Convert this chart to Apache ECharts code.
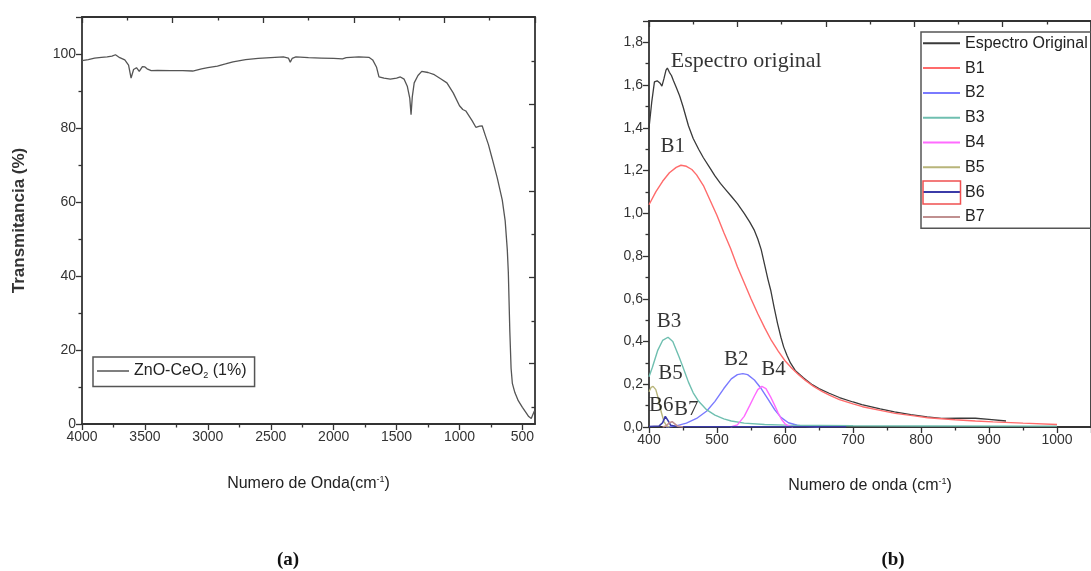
<!DOCTYPE html>
<html>
<head>
<meta charset="utf-8">
<script src="https://cdn.jsdelivr.net/npm/echarts@6/dist/echarts.min.js"></script>
<style>
html,body{margin:0;padding:0;background:#fff;}
#c{width:1091px;height:571px;}
</style>
</head>
<body>
<div id="c"></div>
<script>
// ---------- (a) FTIR spectrum ----------
const ftirWave = [4000,3950,3900,3846,3800,3762,3734,3700,3660,3630,3610,3590,3567,3545,3520,3500,3483,3450,3400,3300,3200,3120,3050,3000,2924,2860,2800,2700,2600,2500,2400,2360,2345,2330,2300,2200,2100,2000,1930,1915,1900,1800,1720,1690,1660,1640,1600,1550,1500,1470,1440,1415,1395,1385,1375,1360,1330,1300,1250,1200,1150,1100,1050,1000,974,950,900,870,840,820,795,770,740,700,660,637,620,612,600,590,580,560,533,500,470,450,430,415,405];
const ftirTrans = [98.2,98.5,98.9,99.1,99.2,99.4,99.8,99.0,98.4,97.0,93.5,95.8,96.3,95.3,96.6,96.5,96.0,95.5,95.6,95.5,95.5,95.4,96.0,96.3,96.7,97.3,97.9,98.5,98.8,99.0,99.2,98.9,97.8,98.8,99.2,99.0,98.9,98.8,98.7,98.3,99.0,99.2,99.1,98.4,96.5,93.8,93.5,93.2,93.5,93.8,93.2,91.3,88.0,83.6,88.5,92.2,94.2,95.3,95.0,94.4,93.3,92.2,89.5,86.0,85.0,84.6,82.0,80.2,80.5,80.6,78.0,75.5,71.7,66.5,60.5,54.9,47.0,41.0,25.0,15.0,11.0,8.5,6.3,4.5,3.0,2.0,1.5,2.0,3.5];
const ftirXTicks = [500,1000,1500,2000,2500,3000,3500,4000];
const ftirXMinorTicks = [750,1250,1750,2250,2750,3250,3750];
const ftirRightMajor = [16.3,39.6,62.9,86.3];
const ftirRightMinor = [4.6,27.8,51.2,74.9,98.0];

// ---------- (b) deconvolution ----------
const espWave = [400,404,408,412,416,419,422,425,427,430,433,436,440,445,450,458,465,473,480,490,497,505,513,521,530,540,548,555,560,565,570,575,579,584,589,594,598,603,608,615,627,640,650,665,680,700,713,740,761,785,809,830,857,880,900,925];
const espVal  = [1.40,1.52,1.615,1.62,1.61,1.595,1.63,1.67,1.68,1.66,1.645,1.62,1.59,1.55,1.50,1.41,1.35,1.30,1.26,1.21,1.175,1.14,1.11,1.08,1.045,1.00,0.96,0.92,0.88,0.83,0.76,0.69,0.64,0.56,0.485,0.42,0.375,0.335,0.30,0.265,0.23,0.198,0.18,0.158,0.138,0.117,0.105,0.085,0.071,0.058,0.047,0.04,0.042,0.041,0.036,0.028];
const b1Wave = [400,410,420,430,440,447,455,463,470,480,490,500,510,520,530,540,550,560,570,580,590,600,610,620,630,642,655,666,680,700,714,740,762,790,810,850,880,906,950,1000];
const b1Val  = [1.04,1.10,1.15,1.19,1.215,1.225,1.22,1.205,1.18,1.13,1.06,0.99,0.91,0.835,0.75,0.675,0.60,0.53,0.465,0.405,0.355,0.31,0.275,0.245,0.218,0.19,0.166,0.148,0.128,0.108,0.095,0.078,0.064,0.052,0.043,0.034,0.028,0.024,0.018,0.012];
const b2Wave = [425,440,455,470,485,497,510,521,530,538,545,555,565,575,585,594,605,618,630,650];
const b2Val  = [0.0,0.005,0.018,0.04,0.075,0.12,0.18,0.225,0.245,0.25,0.245,0.22,0.18,0.13,0.08,0.045,0.02,0.008,0.003,0.0];
const b3Wave = [400,405,413,420,428,435,444,450,458,465,473,485,497,510,521,540,570,600,700,800,1000];
const b3Val  = [0.235,0.28,0.36,0.405,0.42,0.40,0.33,0.28,0.21,0.16,0.12,0.08,0.056,0.038,0.028,0.018,0.012,0.009,0.006,0.005,0.004];
const b4Wave = [520,530,540,548,555,560,566,572,579,585,590,595,600,605,612];
const b4Val  = [0.0,0.01,0.05,0.10,0.145,0.175,0.19,0.18,0.14,0.10,0.065,0.035,0.015,0.005,0.0];
const b5Wave = [400,403,406,410,414,418,422,426,430];
const b5Val  = [0.165,0.185,0.19,0.175,0.13,0.07,0.025,0.005,0.0];
const b6Wave = [400,415,420,424,428,432,440,500,600,690];
const b6Val  = [0.002,0.005,0.02,0.05,0.03,0.008,0.002,0.001,0.001,0.001];
const b7Wave = [420,425,430,434,438,442,450];
const b7Val  = [0.0,0.005,0.02,0.025,0.015,0.004,0.0];

const annText = ['Espectro original','B1','B3','B5','B6','B7','B2','B4'];
const annWave = [543,435,429.5,431.7,418,454.8,528.2,583];
const annVal  = [1.712,1.314,0.492,0.249,0.102,0.083,0.315,0.27];

const zip = (a,b) => a.map((x,i)=>[x,b[i]]);
const SANS = 'Liberation Sans';
const SERIF = 'Liberation Serif';
const AX = '#333';

const chart = echarts.init(document.getElementById('c'), null, {renderer:'canvas'});

const nameRich = {
  n:{fontFamily:SANS,fontSize:16,color:'#222'},
  sup:{fontFamily:SANS,fontSize:9,color:'#222',verticalAlign:'top',padding:[0,0,8,0]}
};

const option = {
  animation:false,
  backgroundColor:'#fff',
  title:[
    {text:'(a)',left:283,top:546,textAlign:'center',textStyle:{fontFamily:SERIF,fontWeight:'bold',fontSize:19,color:'#111'}},
    {text:'(b)',left:888,top:546,textAlign:'center',textStyle:{fontFamily:SERIF,fontWeight:'bold',fontSize:19,color:'#111'}}
  ],
  grid:[
    {left:82,top:17,width:453,height:407},
    {left:649,top:21,width:451,height:406}
  ],
  legend:[
    {
      data:['ZnO-CeO2 (1%)'],
      left:93,top:357,orient:'vertical',
      icon:'rect',itemWidth:32,itemHeight:1.5,itemGap:5,
      padding:[6,8,6,4],
      borderColor:'#555',borderWidth:1.5,
      formatter:()=>'{a|ZnO-CeO}{s|2}{a| (1%)}',
      textStyle:{rich:{
        a:{fontFamily:SANS,fontSize:16,color:'#222'},
        s:{fontFamily:SANS,fontSize:9,color:'#222',padding:[10,0,0,0]}
      }}
    },
    {
      data:['Espectro Original','B1','B2','B3','B4','B5','B6','B7'],
      left:921,top:32,orient:'vertical',
      icon:'rect',itemWidth:37,itemHeight:2,itemGap:8.8,
      padding:[3.3,60,3.3,2],
      borderColor:'#555',borderWidth:1.5,
      textStyle:{fontFamily:SANS,fontSize:16,color:'#222',lineHeight:16,height:16}
    }
  ],
  xAxis:[
    { // 0 bottom (a)
      gridIndex:0,type:'value',inverse:true,min:400,max:4000,position:'bottom',
      name:'{n|Numero de Onda(cm}{sup|-1}{n|)}',nameLocation:'middle',nameGap:51,
      nameTextStyle:{rich:nameRich},
      axisLine:{onZero:false,lineStyle:{color:AX,width:1.8}},
      axisTick:{customValues:ftirXTicks,length:6,lineStyle:{color:AX,width:1.3}},
      axisLabel:{customValues:ftirXTicks,fontFamily:SANS,fontSize:14,color:'#333',margin:6,formatter:v=>String(v)},
      splitLine:{show:false}
    },
    { // 1 bottom minor (a)
      gridIndex:0,type:'value',inverse:true,min:400,max:4000,position:'bottom',
      axisLine:{show:false,onZero:false},
      axisTick:{customValues:ftirXMinorTicks,length:3.5,lineStyle:{color:AX,width:1.3}},
      axisLabel:{show:false},splitLine:{show:false}
    },
    { // 2 top (a)
      gridIndex:0,type:'value',min:0,max:10,interval:2,position:'top',
      axisLine:{onZero:false,lineStyle:{color:AX,width:1.8}},
      axisTick:{inside:true,length:6,lineStyle:{color:AX,width:1.3}},
      minorTick:{show:true,splitNumber:2,length:3.5,lineStyle:{color:AX,width:1.3}},
      axisLabel:{show:false},splitLine:{show:false}
    },
    { // 3 bottom (b)
      gridIndex:1,type:'value',min:400,max:1050,interval:100,position:'bottom',
      name:'{n|Numero de onda (cm}{sup|-1}{n|)}',nameLocation:'middle',nameGap:50,
      nameTextStyle:{rich:nameRich},
      axisLine:{onZero:false,lineStyle:{color:AX,width:1.8}},
      axisTick:{length:6,lineStyle:{color:AX,width:1.3}},
      minorTick:{show:true,splitNumber:2,length:3.5,lineStyle:{color:AX,width:1.3}},
      axisLabel:{fontFamily:SANS,fontSize:14,color:'#333',margin:6,showMaxLabel:false,formatter:v=>String(v)},
      splitLine:{show:false}
    },
    { // 4 top (b)
      gridIndex:1,type:'value',min:0,max:10,interval:2,position:'top',
      axisLine:{onZero:false,lineStyle:{color:AX,width:1.8}},
      axisTick:{inside:true,length:6,lineStyle:{color:AX,width:1.3}},
      minorTick:{show:true,splitNumber:2,length:3.5,lineStyle:{color:AX,width:1.3}},
      axisLabel:{show:false},splitLine:{show:false}
    }
  ],
  yAxis:[
    { // 0 left (a)
      gridIndex:0,type:'value',min:0,max:110,interval:20,position:'left',
      name:'Transmitancia (%)',nameLocation:'middle',nameGap:54,
      nameTextStyle:{fontFamily:SANS,fontSize:17,fontWeight:'bold',color:'#333'},
      axisLine:{show:true,onZero:false,lineStyle:{color:AX,width:1.8}},
      axisTick:{show:true,length:6,lineStyle:{color:AX,width:1.3}},
      minorTick:{show:true,splitNumber:2,length:3.5,lineStyle:{color:AX,width:1.3}},
      axisLabel:{fontFamily:SANS,fontSize:14,color:'#333',margin:6,showMaxLabel:false},
      splitLine:{show:false}
    },
    { // 1 right major (a)
      gridIndex:0,type:'value',min:0,max:110,position:'right',
      axisLine:{show:true,onZero:false,lineStyle:{color:AX,width:1.8}},
      axisTick:{show:true,inside:true,customValues:ftirRightMajor,length:6,lineStyle:{color:AX,width:1.3}},
      axisLabel:{show:false},splitLine:{show:false}
    },
    { // 2 right minor (a)
      gridIndex:0,type:'value',min:0,max:110,position:'right',
      axisLine:{show:false,onZero:false},
      axisTick:{show:true,inside:true,customValues:ftirRightMinor,length:3.5,lineStyle:{color:AX,width:1.3}},
      axisLabel:{show:false},splitLine:{show:false}
    },
    { // 3 left (b)
      gridIndex:1,type:'value',min:0,max:1.9,interval:0.2,position:'left',
      axisLine:{show:true,onZero:false,lineStyle:{color:AX,width:1.8}},
      axisTick:{show:true,length:6,lineStyle:{color:AX,width:1.3}},
      minorTick:{show:true,splitNumber:2,length:3.5,lineStyle:{color:AX,width:1.3}},
      axisLabel:{fontFamily:SANS,fontSize:14,color:'#333',margin:6,showMaxLabel:false,
        formatter:v=>v.toFixed(1).replace('.',',')},
      splitLine:{show:false}
    },
    { // 4 right (b)
      gridIndex:1,type:'value',min:0,max:1.9,position:'right',
      axisLine:{show:true,onZero:false,lineStyle:{color:AX,width:1.8}},
      axisTick:{show:false},axisLabel:{show:false},splitLine:{show:false}
    }
  ],
  series:[
    {name:'ZnO-CeO2 (1%)',type:'line',xAxisIndex:0,yAxisIndex:0,data:zip(ftirWave,ftirTrans),
      symbol:'none',lineStyle:{color:'#555',width:1.3},itemStyle:{color:'#555'}},
    {name:'Espectro Original',type:'line',xAxisIndex:3,yAxisIndex:3,data:zip(espWave,espVal),
      symbol:'none',lineStyle:{color:'#3a3a3a',width:1.3},itemStyle:{color:'#3a3a3a'},z:5},
    {name:'B1',type:'line',xAxisIndex:3,yAxisIndex:3,data:zip(b1Wave,b1Val),
      symbol:'none',lineStyle:{color:'#ff6b6b',width:1.4},itemStyle:{color:'#ff6b6b'},z:6},
    {name:'B2',type:'line',xAxisIndex:3,yAxisIndex:3,data:zip(b2Wave,b2Val),
      symbol:'none',lineStyle:{color:'#7a7aff',width:1.4},itemStyle:{color:'#7a7aff'}},
    {name:'B3',type:'line',xAxisIndex:3,yAxisIndex:3,data:zip(b3Wave,b3Val),
      symbol:'none',lineStyle:{color:'#6fbfb0',width:1.4},itemStyle:{color:'#6fbfb0'}},
    {name:'B4',type:'line',xAxisIndex:3,yAxisIndex:3,data:zip(b4Wave,b4Val),
      symbol:'none',lineStyle:{color:'#ff6bff',width:1.4},itemStyle:{color:'#ff6bff'}},
    {name:'B5',type:'line',xAxisIndex:3,yAxisIndex:3,data:zip(b5Wave,b5Val),
      symbol:'none',lineStyle:{color:'#b8b57a',width:1.4},itemStyle:{color:'#b8b57a'}},
    {name:'B6',type:'line',xAxisIndex:3,yAxisIndex:3,data:zip(b6Wave,b6Val),
      symbol:'none',lineStyle:{color:'#3b3ba8',width:1.6},itemStyle:{color:'#3b3ba8'}},
    {name:'B7',type:'line',xAxisIndex:3,yAxisIndex:3,data:zip(b7Wave,b7Val),
      symbol:'none',lineStyle:{color:'#c09090',width:1.6},itemStyle:{color:'#c09090'}},
    {name:'annotations',type:'scatter',xAxisIndex:3,yAxisIndex:3,
      data:annWave.map((w,i)=>({value:[w,annVal[i]],name:annText[i],
        label:i===0?{fontSize:22}:undefined})),
      symbolSize:1,itemStyle:{color:'rgba(0,0,0,0)'},silent:true,z:10,
      labelLayout:{hideOverlap:false},
      label:{show:true,position:'inside',formatter:p=>p.name,
        fontFamily:SERIF,fontSize:21,color:'#000'}}
  ],
  graphic:[
    {type:'rect',shape:{x:923,y:181,width:37.5,height:23},
      style:{fill:'none',stroke:'#f05050',lineWidth:1.5},z:100}
  ]
};
chart.setOption(option);
</script>
</body>
</html>
